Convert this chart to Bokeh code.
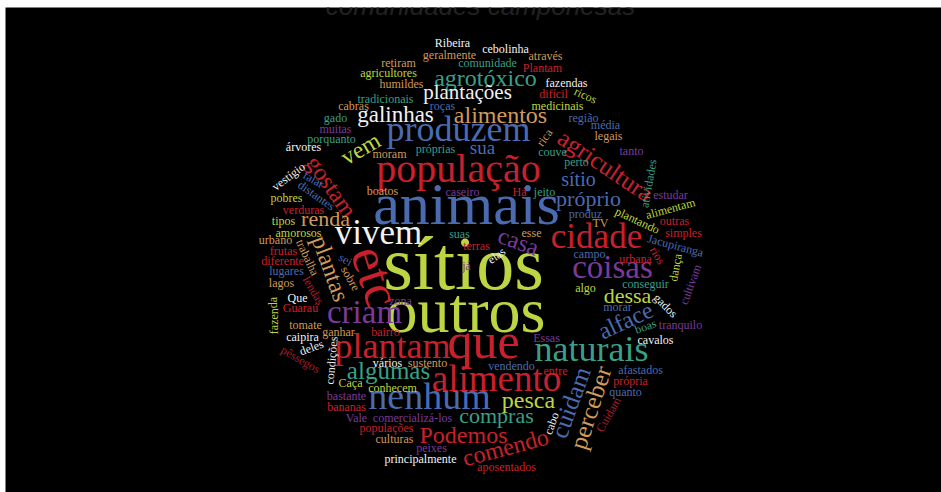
import math
from bokeh.plotting import figure
from bokeh.models import Range1d, Label, ColumnDataSource
from bokeh.embed import file_html
from bokeh.resources import INLINE
from bokeh.core.properties import value

title_text = "comunidades camponesas"

words = [
    "sítios", "outros", "animais", "etc", "que", "população", "nenhum", "alimento",
    "plantam", "naturais", "produzem", "vivem", "cidade", "coisas", "criam",
    "agricultura", "algumas", "cuidam", "perceber", "alimentos", "agrotóxico",
    "gostam", "plantas", "vem", "casa", "alface", "comendo", "Podemos", "pesca",
    "galinhas", "plantações", "compras", "dessa", "renda", "próprio", "sítio", "sua",
    "Ribeira", "cebolinha", "geralmente", "através", "retiram", "comunidade", "Plantam",
    "agricultores", "humildes", "fazendas", "tradicionais", "difícil", "ricos", "roças",
    "cabras", "medicinais", "gado", "região", "muitas", "média", "legais", "porquanto",
    "próprias", "rica", "árvores", "tanto", "moram", "couve", "perto", "atividades",
    "vestígio", "falar", "distantes", "boatos", "caseiro", "Há", "jeito", "pobres",
    "verduras", "estudar", "produz", "plantando", "alimentam", "tipos", "TV", "outras",
    "amorosos", "simples", "urbano", "Jacupiranga", "trabalha", "frutas", "sei", "campo",
    "urbana", "rios", "diferente", "dança", "lugares", "sobre", "cultivam", "conseguir",
    "lagos", "lendas", "zona", "algo", "Que", "gados", "fazenda", "Guaraú", "morar",
    "tomate", "ganhar", "bairro", "caipira", "deles", "pêssegos", "condições", "boas",
    "tranquilo", "cavalos", "vários", "sustento", "Essas", "vendendo", "entre", "Caça",
    "conhecem", "afastados", "própria", "quanto", "Cuidam", "bastante", "bananas", "cabo",
    "Vale", "comercializá-los", "populações", "culturas", "peixes", "principalmente",
    "aposentados", "esse", "suas", "terras", "elas", "já",
]

counts = [
    19, 16, 15, 13, 12.5, 10, 9.5, 9.25,
    9, 9, 9, 8.75, 8.75, 8.25, 8.25,
    6.25, 6.25, 6.25, 6.25, 6, 6,
    6, 6, 6, 6, 6, 6, 6, 6,
    5.75, 5.25, 5.5, 5.5, 5.5, 5.5, 5, 4.75,
] + [3] * 107

# word -> (x px, y px, angle deg, colour key)
layout = {
    "sítios": (463, 262, 0, "G"), "outros": (465, 310, 0, "G"),
    "animais": (466, 203, 0, "B"), "etc": (376, 276, -72, "R"),
    "que": (483, 340, 0, "R"), "população": (458, 168, 0, "R"),
    "nenhum": (429, 395, 0, "B"), "alimento": (496, 378, 0, "R"),
    "plantam": (392, 345, 0, "R"), "naturais": (591, 348, 0, "T"),
    "produzem": (458, 128, 0, "B"), "vivem": (378, 232, 0, "W"),
    "cidade": (596, 236, 0, "R"), "coisas": (612, 266, 0, "P"),
    "criam": (364, 311, 0, "P"), "agricultura": (605, 165, -34, "R"),
    "algumas": (388, 370, 0, "T"), "cuidam": (570, 402, 70, "B"),
    "perceber": (590, 407, 72, "N"), "alimentos": (500, 114, 0, "N"),
    "agrotóxico": (485, 77, 0, "T"), "gostam": (331, 186, -55, "R"),
    "plantas": (330, 268, -70, "N"), "vem": (360, 148, 30, "G"),
    "casa": (518, 241, -20, "P"), "alface": (625, 320, 25, "B"),
    "comendo": (505, 447, 15, "R"), "Podemos": (463, 434, 0, "R"),
    "pesca": (528, 399, 0, "G"), "galinhas": (395, 114, 0, "W"),
    "plantações": (467, 91, 0, "W"), "compras": (496, 415, 0, "T"),
    "dessa": (627, 295, 0, "G"), "renda": (325, 218, 0, "N"),
    "próprio": (588, 198, 0, "B"), "sítio": (578, 178, 0, "B"),
    "sua": (482, 147, 0, "B"),
    "Ribeira": (452, 42, 0, "W"), "cebolinha": (505, 48, 0, "W"),
    "geralmente": (449, 54, 0, "N"), "através": (545, 55, 0, "N"),
    "retiram": (398, 62, 0, "N"), "comunidade": (487, 62, 0, "T"),
    "Plantam": (542, 67, 0, "R"), "agricultores": (388, 72, 0, "G"),
    "humildes": (401, 83, 0, "N"), "fazendas": (566, 82, 0, "W"),
    "tradicionais": (385, 98, 0, "T"), "difícil": (553, 93, 0, "R"),
    "ricos": (585, 95, -25, "G"), "roças": (442, 105, 0, "B"),
    "cabras": (353, 105, 0, "N"), "medicinais": (557, 105, 0, "G"),
    "gado": (335, 117, 0, "T"), "região": (583, 117, 0, "B"),
    "muitas": (335, 128, 0, "P"), "média": (605, 124, 0, "B"),
    "legais": (608, 135, 0, "N"), "porquanto": (331, 138, 0, "T"),
    "próprias": (435, 148, 0, "T"), "rica": (544, 137, 55, "N"),
    "árvores": (303, 146, 0, "W"), "tanto": (631, 150, 0, "P"),
    "moram": (389, 153, 0, "N"), "couve": (552, 151, 0, "T"),
    "perto": (576, 161, 0, "T"), "atividades": (648, 183, 80, "T"),
    "vestígio": (288, 176, 37, "W"), "falar": (313, 179, -30, "B"),
    "distantes": (316, 195, -35, "B"), "boatos": (382, 190, 0, "N"),
    "caseiro": (462, 191, 0, "P"), "Há": (519, 191, 0, "R"),
    "jeito": (544, 191, 0, "T"), "pobres": (286, 197, 0, "G"),
    "verduras": (303, 209, 0, "R"), "estudar": (670, 194, 0, "P"),
    "produz": (585, 213, 0, "B"), "plantando": (637, 220, -25, "G"),
    "alimentam": (670, 208, 15, "G"), "tipos": (283, 220, 0, "G"),
    "TV": (600, 222, 0, "N"), "outras": (674, 220, 0, "R"),
    "amorosos": (298, 232, 0, "G"), "simples": (683, 232, 0, "R"),
    "urbano": (275, 239, 0, "N"), "Jacupiranga": (675, 245, -15, "B"),
    "trabalha": (307, 257, -65, "N"), "frutas": (283, 250, 0, "R"),
    "sei": (345, 259, -30, "B"), "campo": (589, 253, 0, "B"),
    "urbana": (635, 258, 0, "R"), "rios": (657, 255, -60, "R"),
    "diferente": (282, 260, 0, "R"), "dança": (675, 267, 80, "G"),
    "lugares": (286, 270, 0, "B"), "sobre": (350, 278, -60, "N"),
    "cultivam": (690, 284, 70, "P"), "conseguir": (645, 283, 0, "T"),
    "lagos": (281, 282, 0, "N"), "lendas": (313, 290, -60, "D"),
    "zona": (400, 300, 0, "P"), "algo": (585, 287, 0, "G"),
    "Que": (297, 297, 0, "W"), "gados": (665, 305, -45, "W"),
    "fazenda": (273, 315, 90, "G"), "Guaraú": (300, 307, 0, "R"),
    "morar": (617, 306, 0, "B"), "tomate": (305, 324, 0, "N"),
    "ganhar": (338, 331, 0, "N"), "bairro": (385, 331, 0, "R"),
    "caipira": (302, 336, 0, "W"), "deles": (311, 347, 20, "W"),
    "pêssegos": (300, 359, -30, "D"), "condições": (331, 360, 85, "W"),
    "boas": (645, 326, 20, "T"), "tranquilo": (680, 324, 0, "P"),
    "cavalos": (655, 339, 0, "W"), "vários": (387, 362, 0, "W"),
    "sustento": (427, 362, 0, "N"), "Essas": (546, 337, 0, "P"),
    "vendendo": (511, 365, 0, "B"), "entre": (555, 370, 0, "R"),
    "Caça": (350, 382, 0, "G"), "conhecem": (392, 387, 0, "G"),
    "afastados": (640, 369, 0, "B"), "própria": (630, 380, 0, "R"),
    "quanto": (625, 391, 0, "B"), "Cuidam": (608, 414, 60, "D"),
    "bastante": (346, 395, 0, "P"), "bananas": (346, 406, 0, "R"),
    "cabo": (551, 423, 70, "W"), "Vale": (356, 417, 0, "P"),
    "comercializá-los": (412, 417, 0, "P"), "populações": (386, 427, 0, "R"),
    "culturas": (394, 438, 0, "N"), "peixes": (431, 447, 0, "P"),
    "principalmente": (420, 458, 0, "W"), "aposentados": (506, 466, 0, "R"),
    "esse": (531, 232, 0, "N"), "suas": (459, 233, 0, "T"),
    "terras": (476, 245, 0, "R"), "elas": (496, 255, 35, "W"),
    "já": (466, 265, 0, "P"),
}

palette = {
    "R": "#C8202D", "B": "#4A6BB0", "G": "#BDD543", "T": "#3A9F86",
    "N": "#D09A5C", "P": "#7B3A9B", "W": "#F2F2F2", "D": "#A51E2C",
}

PX_PER_COUNT = 4.0

xs, ys, angs, cols, sizes = [], [], [], [], []
for w, c in zip(words, counts):
    x, y, a, k = layout[w]
    xs.append(x)
    ys.append(-y)
    angs.append(math.radians(a))
    cols.append(palette[k])
    sizes.append(f"{c * PX_PER_COUNT:.1f}px")

src = ColumnDataSource(dict(x=xs, y=ys, text=words, angle=angs, color=cols, size=sizes))

p = figure(width=941, height=492,
           x_range=Range1d(5, 941), y_range=Range1d(-492, -7),
           output_backend="svg", toolbar_location=None,
           x_axis_location=None, y_axis_location=None,
           min_border_left=5, min_border_right=0, min_border_bottom=0,
           min_border_top=7)
p.grid.visible = False
p.background_fill_color = "black"
p.border_fill_color = "white"
p.outline_line_color = None

p.text(x="x", y="y", text="text", angle="angle", text_color="color",
       text_font_size="size", text_font=value("Liberation Serif"),
       text_align="center", text_baseline="middle", source=src)

p.add_layout(Label(x=480, y=-5, text=title_text, text_align="center",
                   text_baseline="alphabetic", text_font="Liberation Sans",
                   text_font_style="italic", text_font_size="26px",
                   text_color="#222222"))

open("out.html", "w").write(file_html(p, INLINE))
